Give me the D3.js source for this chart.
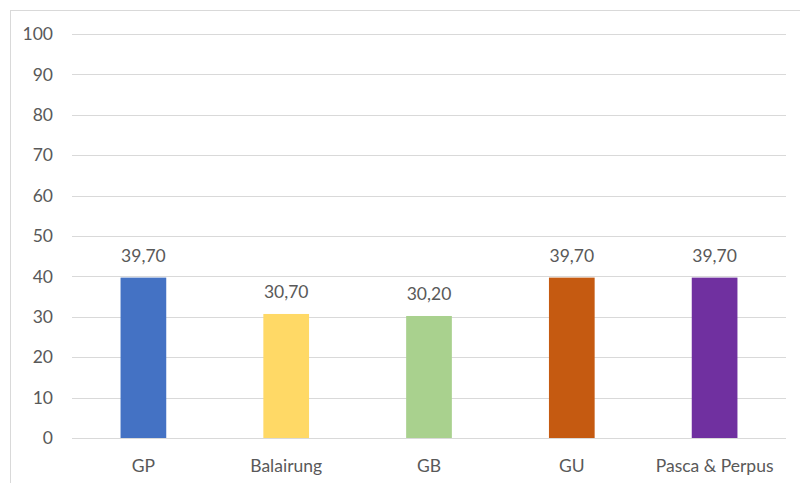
<!DOCTYPE html>
<html>
<head>
<meta charset="utf-8">
<script src="https://cdn.jsdelivr.net/npm/d3@7"></script>
<style>
  body { margin: 0; background: #fff; }
  text { font-family: Lato, "Open Sans", sans-serif; fill: #595959; }
</style>
</head>
<body>
<div id="cont"></div>
<script>
// chart data
var categories = ["GP", "Balairung", "GB", "GU", "Pasca & Perpus"];
var values = [39.70, 30.70, 30.20, 39.70, 39.70];
var colors = ["#4472C4", "#FFD966", "#A9D18E", "#C55A11", "#7030A0"];
var yTicks = [0, 10, 20, 30, 40, 50, 60, 70, 80, 90, 100];

var W = 800, H = 483;
var margin = {top: 34, right: 14, bottom: 45, left: 72},
    width = W - margin.left - margin.right,
    height = H - margin.top - margin.bottom;

var svgRoot = d3.select("#cont").append("svg")
    .attr("width", W)
    .attr("height", H);

// outer chart frame
svgRoot.append("rect")
    .attr("x", 10.5).attr("y", 10.5)
    .attr("width", W).attr("height", H)
    .style("fill", "none")
    .style("stroke", "#d9d9d9");

var svg = svgRoot.append("g")
    .attr("transform", "translate(" + margin.left + "," + margin.top + ")");

var x = d3.scaleBand().domain(categories).range([0, width]).paddingInner(0.68).paddingOuter(0.34);
var y = d3.scaleLinear().domain([0, 100]).range([height, 0]);

// gridlines
svg.append("g").selectAll("line")
    .data(yTicks)
  .enter().append("line")
    .attr("x1", 0).attr("x2", width)
    .attr("y1", function(d) { return Math.round(y(d)) + 0.5; })
    .attr("y2", function(d) { return Math.round(y(d)) + 0.5; })
    .style("stroke", "#d9d9d9")
    .style("stroke-width", 1);

// y tick labels
svg.append("g").selectAll("text")
    .data(yTicks)
  .enter().append("text")
    .attr("x", -19)
    .attr("y", function(d) { return y(d); })
    .attr("dy", "0.35em")
    .attr("text-anchor", "end")
    .style("font-size", "17.5px")
    .text(function(d) { return d; });

// bars
svg.append("g").selectAll("rect")
    .data(values)
  .enter().append("rect")
    .attr("x", function(d, i) { return x(categories[i]); })
    .attr("width", x.bandwidth())
    .attr("y", function(d) { return y(d); })
    .attr("height", function(d) { return height - y(d); })
    .style("fill", function(d, i) { return colors[i]; });

// baseline over bars
svg.append("line")
    .attr("x1", 0).attr("x2", width)
    .attr("y1", Math.round(y(0)) + 0.5).attr("y2", Math.round(y(0)) + 0.5)
    .style("stroke", "#d9d9d9")
    .style("stroke-opacity", 0.6);

// value labels
svg.append("g").selectAll("text")
    .data(values)
  .enter().append("text")
    .attr("x", function(d, i) { return x(categories[i]) + x.bandwidth() / 2; })
    .attr("y", function(d) { return y(d) - 16; })
    .attr("text-anchor", "middle")
    .style("font-size", "17.5px")
    .text(function(d) { return d.toFixed(2).replace(".", ","); });

// category labels
svg.append("g").selectAll("text")
    .data(categories)
  .enter().append("text")
    .attr("x", function(d) { return x(d) + x.bandwidth() / 2; })
    .attr("y", height + 34)
    .attr("text-anchor", "middle")
    .style("font-size", "17.5px")
    .text(function(d) { return d; });
</script>
</body>
</html>
